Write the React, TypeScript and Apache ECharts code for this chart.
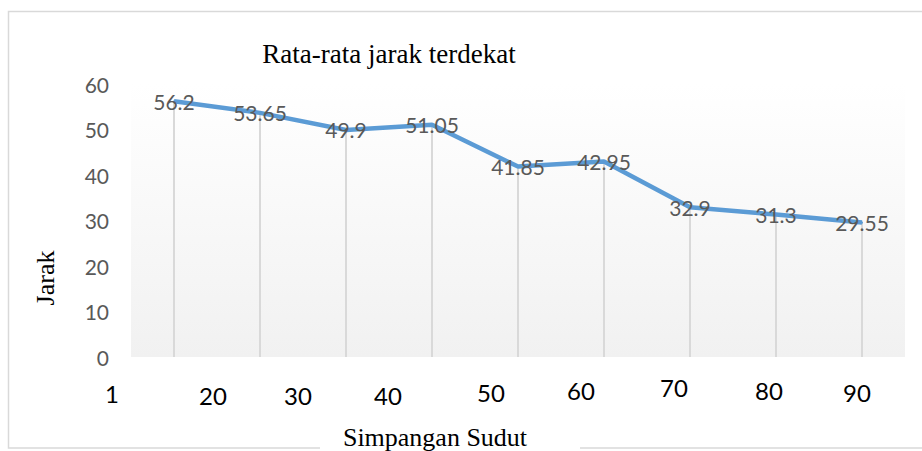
import React, { useEffect, useRef } from "react";
import * as echarts from "echarts";

const categories = ["1", "20", "30", "40", "50", "60", "70", "80", "90"];
const jarak = [56.2, 53.65, 49.9, 51.05, 41.85, 42.95, 32.9, 31.3, 29.55];
const xTickLabels = ["1", "20", "30", "40", "50", "60", "70", "80", "90"];
const yTicks = { min: 0, max: 60, interval: 10 };

const titleText = "Rata-rata jarak terdekat";
const yName = "Jarak";
const xName = "Simpangan Sudut";

// layout of the typed (misaligned) x label row
const xLabelX = [112, 213, 298, 388, 491, 581, 674, 769, 857];
const xLabelY = [393, 395, 395, 395, 392, 390, 387, 390, 392];

export default function App() {
  const ref = useRef<HTMLDivElement>(null);
  useEffect(() => {
    if (!ref.current) return;
    const chart = echarts.init(ref.current, null, { renderer: "svg" });
    const serif = "'Liberation Serif', 'Times New Roman', serif";
    const sans = "Lato, 'Open Sans', sans-serif";
    chart.setOption({
      animation: false,
      backgroundColor: "#ffffff",
      grid: {
        left: 131,
        top: 84,
        width: 774,
        height: 273,
        show: true,
        borderWidth: 0,
        backgroundColor: new echarts.graphic.LinearGradient(0, 0, 0, 1, [
          { offset: 0, color: "#ffffff" },
          { offset: 1, color: "#f1f1f1" },
        ]),
      },
      xAxis: {
        type: "category",
        data: categories,
        boundaryGap: true,
        axisLine: { show: false },
        axisTick: { show: false },
        axisLabel: { show: false },
        splitLine: { show: false },
      },
      yAxis: {
        type: "value",
        min: yTicks.min,
        max: yTicks.max,
        interval: yTicks.interval,
        axisLine: { show: false },
        axisTick: { show: false },
        splitLine: { show: false },
        axisLabel: {
          margin: 22,
          color: "#595959",
          fontFamily: sans,
          fontSize: 21,
        },
      },
      series: [
        {
          type: "bar",
          data: jarak,
          barWidth: 2,
          itemStyle: { color: "#d9d9d9" },
          silent: true,
          z: 1,
        },
        {
          type: "line",
          data: jarak,
          symbol: "circle",
          symbolSize: 2,
          itemStyle: { color: "#5B9BD5" },
          lineStyle: { color: "#5B9BD5", width: 4.5 },
          z: 3,
          label: {
            show: true,
            position: "inside",
            color: "#595959",
            fontFamily: sans,
            fontSize: 21,
          },
        },
      ],
      graphic: [
        {
          type: "rect",
          shape: { x: 8.5, y: 11.5, width: 930, height: 436.5 },
          style: { fill: "none", stroke: "#d9d9d9", lineWidth: 1.5 },
          silent: true,
          z: -10,
        },
        {
          type: "text",
          x: 389,
          y: 54,
          style: {
            text: titleText,
            fill: "#000000",
            font: `27px ${serif}`,
            align: "center",
            verticalAlign: "middle",
          },
        },
        {
          type: "text",
          x: 45,
          y: 278,
          rotation: Math.PI / 2,
          style: {
            text: yName,
            fill: "#000000",
            font: `26px ${serif}`,
            align: "center",
            verticalAlign: "middle",
          },
        },
        ...xTickLabels.map((t, i) => ({
          type: "text",
          x: xLabelX[i],
          y: xLabelY[i],
          style: {
            text: t,
            fill: "#000000",
            font: `24px ${sans}`,
            align: "center",
            verticalAlign: "middle",
          },
        })),
        {
          type: "rect",
          shape: { x: 320, y: 421, width: 260, height: 32 },
          style: { fill: "#ffffff" },
          z: 5,
        },
        {
          type: "text",
          x: 435,
          y: 437,
          z: 6,
          style: {
            text: xName,
            fill: "#000000",
            font: `26px ${serif}`,
            align: "center",
            verticalAlign: "middle",
          },
        },
      ],
    });
    return () => chart.dispose();
  }, []);
  return (
    <div
      ref={ref}
      style={{ position: "absolute", left: 0, top: 0, width: 922, height: 451 }}
    />
  );
}
